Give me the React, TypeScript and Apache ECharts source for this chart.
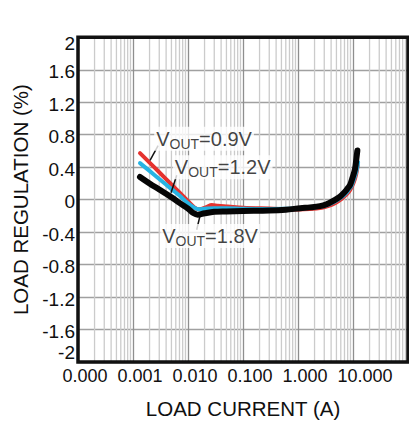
import React, { useEffect, useRef } from "react";
import * as echarts from "echarts";

const FONT = '"Liberation Sans", Arial, Helvetica, sans-serif';
const TEXT = "#101010";

// Load current (A) and load regulation (%) per output voltage
const vout09X = [0.00134, 0.002, 0.003, 0.005, 0.007, 0.01, 0.013, 0.016, 0.022, 0.027, 0.035, 0.053, 0.1, 0.3, 1, 1.65, 2.7, 3.5, 4.8, 6.2, 7.5, 8.5, 9.4, 10.4, 11.4, 12.2];
const vout09Y = [0.573, 0.457, 0.338, 0.187, 0.09, -0.018, -0.094, -0.118, -0.088, -0.066, -0.076, -0.085, -0.1, -0.11, -0.12, -0.115, -0.1, -0.08, -0.04, 0.01, 0.06, 0.1, 0.15, 0.22, 0.31, 0.42];

const vout12X = [0.00134, 0.002, 0.003, 0.005, 0.007, 0.01, 0.013, 0.016, 0.02, 0.03, 0.05, 0.1, 0.3, 1.1, 1.75, 2.7, 3.5, 4.8, 6.2, 7.5, 8.5, 9.4, 10.4, 11.6, 12.4];
const vout12Y = [0.45, 0.354, 0.255, 0.13, 0.05, -0.045, -0.1, -0.118, -0.112, -0.106, -0.106, -0.112, -0.115, -0.11, -0.1, -0.085, -0.065, -0.02, 0.03, 0.08, 0.13, 0.17, 0.25, 0.36, 0.46];

const vout18X = [0.00134, 0.002, 0.003, 0.005, 0.007, 0.01, 0.0125, 0.015, 0.02, 0.03, 0.05, 0.1, 0.3, 0.6, 1.1, 1.65, 2.5, 3.3, 4.5, 5.8, 7, 8, 8.8, 9.8, 10.9, 11.5, 12];
const vout18Y = [0.28, 0.2, 0.125, 0.03, -0.04, -0.11, -0.165, -0.185, -0.168, -0.15, -0.145, -0.14, -0.135, -0.125, -0.105, -0.095, -0.08, -0.057, -0.01, 0.037, 0.09, 0.14, 0.178, 0.27, 0.38, 0.5, 0.605];

const seriesLabels = ["0.9V", "1.2V", "1.8V"];
const seriesColors = ["#e5332f", "#27b4e4", "#050505"];
const seriesWidths = [4, 4, 6];

// Axis ranges
const xMin = 0.0001;
const xMax = 100;
const yMin = -2;
const yMax = 2;
const yStep = 0.4;
const xDecades = [0.0001, 0.001, 0.01, 0.1, 1, 10];
const minorMultipliers = [2, 3, 4, 5, 6, 7, 8, 9];

// Annotation anchors (data coordinates)
const annotationX = [0.00238, 0.00519, 0.00306];
const annotationY = [0.751, 0.398, -0.448];
const leaderFromX = [0.00286, 0.00624, 0.01439];
const leaderFromY = [0.666, 0.3, -0.371];
const leaderToX = [0.00204, 0.00491, 0.01652];
const leaderToY = [0.483, 0.085, -0.2];

export default function App() {
  const ref = useRef<HTMLDivElement>(null);

  useEffect(() => {
    if (!ref.current) return;
    const chart = echarts.init(ref.current, undefined, { renderer: "svg" });

    const minorLines: number[][] = [];
    xDecades.forEach((d) => minorMultipliers.forEach((m) => minorLines.push([d * m, 0])));

    const xs = [vout09X, vout12X, vout18X];
    const ys = [vout09Y, vout12Y, vout18Y];

    const dataSeries = seriesLabels.map((lab, k) => ({
      type: "line",
      name: "VOUT=" + lab,
      data: xs[k].map((x, i) => [x, ys[k][i]]),
      showSymbol: false,
      symbol: "none",
      smooth: 0.35,
      silent: true,
      z: 3 + k,
      lineStyle: { color: seriesColors[k], width: seriesWidths[k], cap: "round", join: "round" },
    }));

    const option: any = {
      animation: false,
      backgroundColor: "#ffffff",
      grid: {
        left: 78,
        right: 1,
        top: 37.3,
        bottom: 58.7,
        show: true,
        z: 10,
        backgroundColor: "transparent",
        borderColor: "#111111",
        borderWidth: 3.5,
      },
      xAxis: {
        type: "log",
        logBase: 10,
        min: xMin,
        max: xMax,
        splitNumber: 6,
        axisLine: { show: false },
        axisTick: { show: false },
        splitLine: { show: true, lineStyle: { color: "#8e8e8e", width: 1.3 } },
        axisLabel: {
          margin: 5,
          showMaxLabel: false,
          showMinLabel: true,
          color: TEXT,
          fontSize: 18,
          fontFamily: FONT,
          formatter: (v: number) => {
            if (v > 50) return "";
            const s = v.toFixed(3);
            return v > 5 ? `{b|${s}}` : `{a|${s}}`;
          },
          rich: {
            a: { padding: [0, 0, 0, 14], fontSize: 18, fontFamily: FONT, color: TEXT },
            b: { padding: [0, 0, 0, 24], fontSize: 18, fontFamily: FONT, color: TEXT },
          },
        },
        name: "LOAD CURRENT (A)",
        nameLocation: "middle",
        nameGap: 36,
        nameTextStyle: { fontSize: 20.5, fontFamily: FONT, color: TEXT },
      },
      yAxis: {
        type: "value",
        min: yMin,
        max: yMax,
        interval: yStep,
        axisLine: { show: false },
        axisTick: { show: false },
        splitLine: { show: true, lineStyle: { color: "#a0a0a0", width: 1.3 } },
        axisLabel: {
          margin: 3,
          color: TEXT,
          fontSize: 19,
          fontFamily: FONT,
          formatter: (v: number) => {
            const s = String(Number(v.toFixed(1)));
            if (Math.abs(v - yMax) < 1e-6) return `{t|${s}}`;
            if (Math.abs(v - yMin) < 1e-6) return `{m|${s}}`;
            return `{n|${s}}`;
          },
          rich: {
            t: { padding: [12, 0, 0, 0], fontSize: 19, fontFamily: FONT, color: TEXT },
            m: { padding: [0, 0, 20, 0], fontSize: 19, fontFamily: FONT, color: TEXT },
            n: { padding: [4, 0, 0, 0], fontSize: 19, fontFamily: FONT, color: TEXT },
          },
        },
        name: "LOAD REGULATION (%)",
        nameLocation: "middle",
        nameGap: 44,
        nameRotate: 90,
        nameTextStyle: { fontSize: 20.5, fontFamily: FONT, color: TEXT },
      },
      series: [
        {
          type: "custom",
          silent: true,
          z: 1,
          data: minorLines,
          encode: { x: 0, y: 1 },
          renderItem: (_params: any, api: any) => {
            const v = api.value(0);
            const p1 = api.coord([v, yMax]);
            const p2 = api.coord([v, yMin]);
            return {
              type: "line",
              shape: { x1: p1[0], y1: p1[1], x2: p2[0], y2: p2[1] },
              style: { stroke: "#cbcbcb", lineWidth: 1.3 },
            };
          },
        },
        ...dataSeries,
        {
          type: "scatter",
          silent: true,
          z: 8,
          symbolSize: 1,
          itemStyle: { color: "rgba(0,0,0,0)" },
          data: annotationX.map((x, i) => ({ value: [x, annotationY[i]], name: seriesLabels[i] })),
          label: {
            show: true,
            position: "right",
            distance: 0,
            backgroundColor: "#ffffff",
            padding: [0, 2],
            formatter: (p: any) => `{v|V}{s|OUT}{v|=${p.name}}`,
            rich: {
              v: { fontSize: 20, fontFamily: FONT, color: TEXT, lineHeight: 24 },
              s: { fontSize: 14, fontFamily: FONT, color: TEXT, lineHeight: 14, padding: [10, 0, 0, 0] },
            },
          },
          markLine: {
            silent: true,
            symbol: ["none", "none"],
            label: { show: false },
            emphasis: { disabled: true },
            lineStyle: { color: TEXT, width: 1.5, type: "solid" },
            data: leaderFromX.map((x, i) => [
              { coord: [x, leaderFromY[i]] },
              { coord: [leaderToX[i], leaderToY[i]] },
            ]),
          },
        },
      ],
    };

    chart.setOption(option);
    return () => chart.dispose();
  }, []);

  return (
    <div
      ref={ref}
      style={{ position: "fixed", left: 0, top: 0, width: 409, height: 424, background: "#fff" }}
    />
  );
}
